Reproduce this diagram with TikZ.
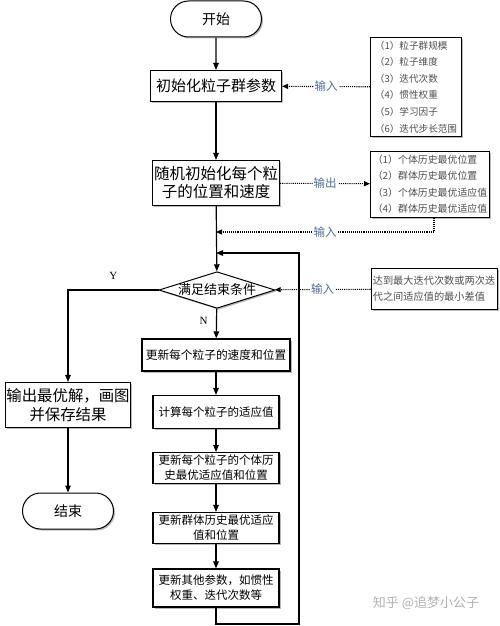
\documentclass[tikz,border=0pt]{standalone}
\usepackage{fontspec}
\setmainfont{Noto Sans CJK SC}
\newfontfamily\lat{Liberation Serif}
\usetikzlibrary{arrows.meta,shapes.geometric,shapes.misc,shadows}
\definecolor{lblc}{HTML}{4F6D9A}
\definecolor{listc}{HTML}{505050}
\begin{document}
\begin{tikzpicture}[x=1pt,y=-1pt,
  shd/.style={drop shadow={shadow xshift=1.5pt,shadow yshift=-1.5pt,fill=black!45,opacity=0.6}},
  term/.style={rounded rectangle,draw,line width=1pt,fill=white,shd,minimum width=91pt,minimum height=36pt,inner sep=0pt,font=\fontsize{14}{16}\selectfont},
  box/.style={rectangle,draw,line width=1.2pt,fill=white,shd,align=center,inner sep=0pt},
  bigbox/.style={box,font=\fontsize{15}{18}\selectfont},
  smallbox/.style={box,minimum width=126pt,font=\fontsize{11.5}{15}\selectfont},
  listbox/.style={rectangle,draw,line width=1pt,fill=white,shd,align=left,inner sep=0pt,text=listc},
  dia/.style={diamond,aspect=3.17,draw,line width=1pt,fill=white,shd,inner sep=0pt,minimum width=114pt,minimum height=36pt,font=\fontsize{13}{15}\selectfont},
  arr/.style={line width=1.2pt,-{Triangle[length=7pt,width=5.5pt]}},
  dot/.style={line width=1.1pt,densely dotted,-{Triangle[length=6pt,width=5pt]}},
  lbl/.style={fill=white,inner sep=1pt,text=lblc,font=\fontsize{11.5}{13}\selectfont},
  yn/.style={font=\lat\fontsize{11}{13}\selectfont}
]
\useasboundingbox (0,0) rectangle (500,626);

\node[term] (start) at (216,19) {开始};
\node[bigbox,minimum width=131pt,minimum height=31pt] (init) at (216,86) {初始化粒子群参数};
\node[listbox,minimum width=91pt,minimum height=98pt,font=\fontsize{9.6}{16.6}\selectfont] (plist) at (416,87)
  {（1）粒子群规模\\（2）粒子维度\\（3）迭代次数\\（4）惯性权重\\（5）学习因子\\（6）迭代步长范围};
\node[bigbox,minimum width=127pt,minimum height=45pt,font=\fontsize{15.5}{18}\selectfont] (rand) at (216,183) {随机初始化每个粒\\子的位置和速度};
\node[listbox,minimum width=119pt,minimum height=66pt,font=\fontsize{9.9}{16.5}\selectfont] (olist) at (430,184)
  {（1）个体历史最优位置\\（2）群体历史最优位置\\（3）个体历史最优适应值\\（4）群体历史最优适应值};
\node[dia] (cond) at (217,290) {满足结束条件};
\node[listbox,minimum width=126pt,minimum height=41pt,font=\fontsize{10.2}{16}\selectfont] (stop) at (434,289)
  {达到最大迭代次数或两次迭\\代之间适应值的最小差值};

\node[box,minimum width=148pt,minimum height=32pt,font=\fontsize{11.7}{15}\selectfont] (b1) at (216,355) {更新每个粒子的速度和位置};
\node[smallbox,minimum height=33pt] (b2) at (216,412) {计算每个粒子的适应值};
\node[smallbox,minimum height=31pt] (b3) at (216,468) {更新每个粒子的个体历\\史最优适应值和位置};
\node[smallbox,minimum height=31pt] (b4) at (216,528) {更新群体历史最优适应\\值和位置};
\node[smallbox,minimum height=38pt] (b5) at (216,588) {更新其他参数，如惯性\\权重、迭代次数等};

\node[bigbox,minimum width=125pt,minimum height=45pt,font=\fontsize{15.4}{19}\selectfont] (out) at (68,405) {输出最优解，画图\\并保存结果};
\node[term] (end) at (68,511) {结束};

\coordinate (fb) at (216,232);
\coordinate (fbr) at (434,232);
\coordinate (lj) at (216,253);
\coordinate (lb) at (216,624);
\coordinate (lr) at (299,624);
\coordinate (lt) at (299,253);
\coordinate (yc) at (68,290);

% main flow
\draw[arr] (start) -- (init);
\draw[arr] (init) -- (rand);
\draw[arr] (rand) -- (cond);
\draw[arr] (cond) -- node[yn,left=5pt,pos=0.4] {N} (b1);
\draw[arr] (b1) -- (b2);
\draw[arr] (b2) -- (b3);
\draw[arr] (b3) -- (b4);
\draw[arr] (b4) -- (b5);
\draw[arr] (b5.south) -- (lb) -- (lr) -- (lt) -- (lj);
\draw[arr] (cond.west) -- node[yn,above=7pt] {Y} (yc) -- (out);
\draw[arr] (out) -- (end);

% dotted data flows
\draw[dot] (plist) -- node[lbl] {输入} (init);
\draw[dot] (rand) -- node[lbl] {输出} (olist);
\draw[dot] (olist.south -| fbr) -- (fbr) -- node[lbl] {输入} (fb);
\draw[dot] (stop) -- node[lbl] {输入} (cond);

\node[text=black!30,font=\fontsize{13}{15}\selectfont] (wm) at (426,603) {知乎 @追梦小公子};
\end{tikzpicture}
\end{document}
